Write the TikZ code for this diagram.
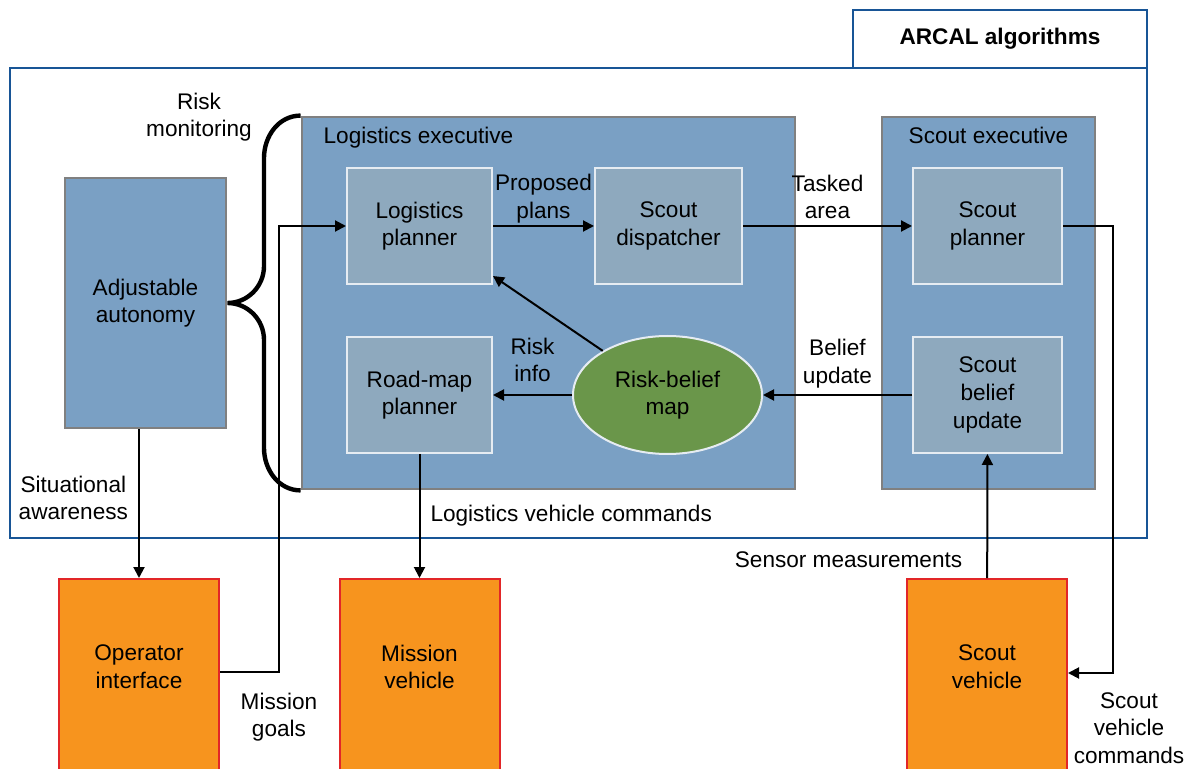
\documentclass[tikz,border=0pt]{standalone}
\usepackage{fontspec}
\setmainfont{Liberation Sans}
\usetikzlibrary{arrows.meta,shapes.geometric}

\definecolor{arcalblue}{RGB}{24,85,150}
\definecolor{execblue}{RGB}{122,160,196}
\definecolor{framegray}{RGB}{128,128,128}
\definecolor{subblue}{RGB}{142,169,190}
\definecolor{subedge}{RGB}{230,236,242}
\definecolor{beliefgreen}{RGB}{106,150,74}
\definecolor{vehorange}{RGB}{247,148,30}
\definecolor{vehred}{RGB}{226,38,40}

\begin{document}
\begin{tikzpicture}[
  x=0.5pt, y=-0.5pt,
  >={Triangle[length=5.5pt,width=5.5pt]},
  font=\fontsize{11.3}{13.8}\selectfont,
  frame/.style={draw=arcalblue, line width=1.2pt, inner sep=0pt},
  exec/.style={draw=framegray, fill=execblue, line width=1.4pt, minimum height=186pt, inner sep=0pt},
  subbox/.style={draw=subedge, fill=subblue, line width=1pt, align=center, minimum height=58pt, inner sep=0pt},
  vehicle/.style={draw=vehred, fill=vehorange, line width=1pt, minimum width=80pt, minimum height=110pt, anchor=north},
  flow/.style={->, line width=1pt},
  lbl/.style={align=center, inner sep=2pt}
]
\useasboundingbox (0,0) rectangle (1187,769);

% algorithm frame
\node[frame, minimum width=568.5pt, minimum height=235pt] (arcal) at (578.5,303) {};
\node[frame, fill=white, minimum width=147pt, minimum height=29pt] (arcaltab) at (1000,39) {\bfseries ARCAL algorithms};

% executives
\node[exec, minimum width=80.5pt, minimum height=125pt, align=center] (autonomy) at (145.5,303) {Adjustable\\autonomy};
\node[exec, minimum width=246.5pt] (logexec) at (548.5,303) {};
\node[exec, minimum width=106.5pt] (scoutexec) at (988.5,303) {};
\node[anchor=west] (logtitle) at ([xshift=8pt,yshift=-11pt]logexec.north west) {Logistics executive};
\node (scouttitle) at ([yshift=-10pt]scoutexec.north) {Scout executive};

% inner blocks
\node[subbox, minimum width=72.5pt] (logplan) at (419.5,226) {Logistics\\planner};
\node[subbox, minimum width=73.5pt] (dispatch) at (668.5,226) {Scout\\dispatcher};
\node[subbox, minimum width=72.5pt] (roadmap) at (419.5,395) {Road-map\\planner};
\node[ellipse, draw=subedge, fill=beliefgreen, line width=1pt, minimum width=94.5pt, minimum height=59pt, inner sep=0pt, align=center] (riskmap) at (667.5,395) {Risk-belief\\map};
\node[subbox, minimum width=74.5pt] (scoutplan) at (987.5,226) {Scout\\planner};
\node[subbox, minimum width=74.5pt] (scoutbelief) at (987.5,395) {Scout\\belief\\update};

% vehicles
\node[vehicle] (operator) at (139,578) {};
\node[vehicle] (mission) at (419.5,578) {};
\node[vehicle] (scoutveh) at (987,578) {};
\node[lbl] (operatorname) at ([yshift=-44.5pt]operator.north) {Operator\\interface};
\node[lbl] (missionname) at ([yshift=-44.5pt]mission.north) {Mission\\vehicle};
\node[lbl] (scoutvehname) at ([yshift=-44.5pt]scoutveh.north) {Scout\\vehicle};

% risk monitoring brace
\draw[line width=2.2pt] (logexec.north west) to[out=180,in=90] (264,158) -- (264,266)
  to[out=-90,in=0] (autonomy.east) to[out=0,in=90] (264,340) -- (264,448)
  to[out=-90,in=180] (logexec.south west);
\node[lbl] (risklabel) at (199,117) {Risk\\monitoring};

% connectors
\draw[flow] (logplan) -- node[lbl, above=-1pt] (plansl) {Proposed\\plans} (dispatch);
\draw[flow] (dispatch) -- node[lbl, above=1pt] (taskl) {Tasked\\area} (scoutplan);
\draw[flow] (riskmap) -- (logplan);
\draw[flow] (riskmap) -- node[lbl, above=4pt] (infol) {Risk\\info} (roadmap);
\draw[flow] (scoutbelief) -- node[lbl, above=1pt] (beliefl) {Belief\\update} (riskmap);
\draw[flow] (roadmap) -- node[lbl, right=3pt] (logcmdl) {Logistics vehicle commands} (mission);
\draw[flow] (operator |- autonomy.south) -- node[lbl, pos=0.46, left=3pt] (awarel) {Situational\\awareness} (operator);

\coordinate (goalbend) at (279,672);
\draw[flow] (operator.east |- goalbend) -- (goalbend) node[lbl, below=8pt] (goall) {Mission\\goals} |- (logplan);

\coordinate (cmdbend) at (1113,673);
\draw[flow] (scoutplan) -| (cmdbend) -- (cmdbend -| scoutveh.east);
\node[lbl] (cmdl) at (1129,728) {Scout\\vehicle\\commands};

\draw[flow] (scoutveh) -- node[lbl, pos=0.15, left=10pt] (sensorl) {Sensor measurements} (scoutbelief);
\end{tikzpicture}
\end{document}
